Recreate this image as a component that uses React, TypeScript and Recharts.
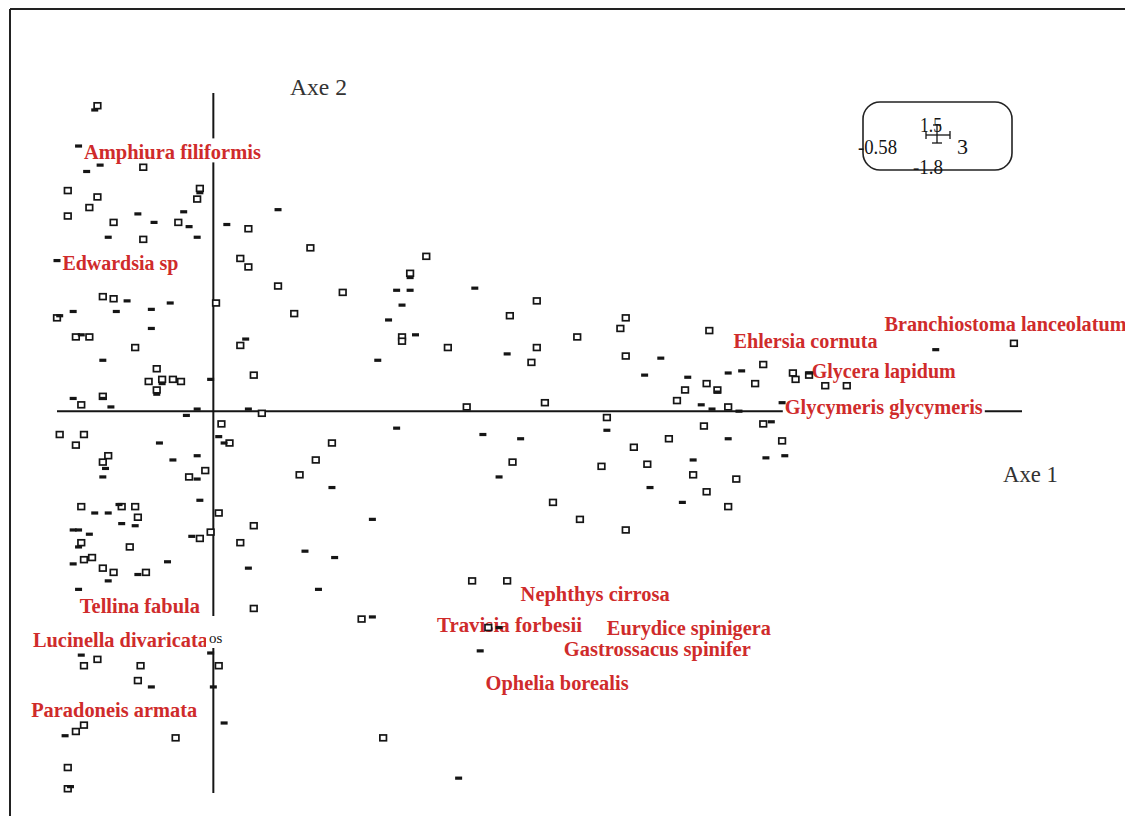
import { ScatterChart, Scatter, XAxis, YAxis } from "recharts";

// axis extents of the ordination plane (from the scale box in the corner)
const X_DOMAIN: [number, number] = [-0.58, 3];
const Y_DOMAIN: [number, number] = [-1.8, 1.5];

const AXIS_H = [{ x: -0.58, y: 0 }, { x: 3, y: 0 }];
const AXIS_V = [{ x: 0, y: 1.5 }, { x: 0, y: -1.8 }];

// stations drawn as open squares
const OPEN_PTS: [number, number][] = [
  [-0.43, 1.44], [-0.26, 1.15], [-0.54, 1.04], [-0.43, 1.01], [-0.05, 1.05], [-0.06, 1.0], [-0.46, 0.96],
  [-0.54, 0.92], [-0.37, 0.89], [-0.13, 0.89], [-0.26, 0.81], [0.13, 0.86], [0.36, 0.77], [0.1, 0.72],
  [0.13, 0.68], [0.24, 0.59], [0.48, 0.56], [-0.41, 0.54], [-0.37, 0.53], [0.01, 0.51], [0.3, 0.46],
  [-0.58, 0.44], [0.1, 0.31], [-0.51, 0.35], [-0.46, 0.35], [-0.29, 0.3], [-0.21, 0.2], [0.15, 0.17],
  [-0.24, 0.14], [-0.19, 0.15], [-0.15, 0.15], [-0.12, 0.14], [-0.21, 0.1], [-0.41, 0.07], [-0.49, 0.03],
  [0.18, -0.01], [0.03, -0.06], [-0.57, -0.11], [-0.48, -0.11], [-0.51, -0.16], [0.06, -0.15], [0.44, -0.15],
  [-0.39, -0.21], [0.38, -0.23], [-0.41, -0.24], [0.32, -0.3], [-0.03, -0.28], [-0.09, -0.31], [-0.49, -0.45],
  [-0.34, -0.45], [-0.29, -0.45], [-0.28, -0.5], [0.02, -0.48], [0.15, -0.54], [-0.01, -0.57], [-0.05, -0.6],
  [-0.49, -0.62], [-0.31, -0.64], [0.1, -0.62], [-0.48, -0.7], [-0.45, -0.69], [-0.41, -0.74], [-0.37, -0.76],
  [-0.25, -0.76], [0.15, -0.93], [0.55, -0.98], [-0.43, -1.17], [-0.48, -1.2], [-0.27, -1.2], [0.02, -1.2],
  [-0.28, -1.27], [-0.48, -1.48], [-0.51, -1.51], [-0.14, -1.54], [0.63, -1.54], [-0.54, -1.68], [-0.54, -1.78],
  [0.79, 0.73], [0.73, 0.65], [0.7, 0.35], [0.7, 0.33], [0.87, 0.3], [1.2, 0.52], [1.1, 0.45], [1.2, 0.3],
  [1.18, 0.23], [1.35, 0.35], [1.53, 0.44], [1.51, 0.39], [1.53, 0.26], [1.84, 0.38], [2.04, 0.22], [1.83, 0.13],
  [1.75, 0.1], [1.87, 0.1], [2.01, 0.13], [1.72, 0.05], [1.91, 0.02], [0.94, 0.02], [1.23, 0.04], [1.46, -0.03],
  [1.56, -0.17], [1.82, -0.07], [2.04, -0.06], [1.69, -0.13], [1.11, -0.24], [1.44, -0.26], [1.61, -0.25],
  [1.78, -0.3], [1.94, -0.32], [1.83, -0.38], [1.91, -0.45], [1.26, -0.43], [1.36, -0.51], [1.53, -0.56],
  [0.96, -0.8], [1.09, -0.8], [1.02, -1.02], [2.15, 0.18], [2.16, 0.15], [2.21, 0.17], [2.27, 0.12],
  [2.35, 0.12], [2.97, 0.32], [2.11, -0.14],
];

// stations drawn as small filled dashes
const FILLED_PTS: [number, number][] = [
  [-0.44, 1.42], [-0.5, 1.25], [-0.42, 1.16], [-0.47, 1.13], [-0.05, 1.03], [-0.11, 0.94], [-0.28, 0.93],
  [-0.22, 0.89], [-0.09, 0.87], [-0.39, 0.82], [-0.06, 0.82], [0.05, 0.88], [0.24, 0.95], [-0.58, 0.71],
  [0.68, 0.57], [-0.32, 0.52], [-0.16, 0.51], [-0.52, 0.47], [-0.36, 0.47], [-0.23, 0.48], [-0.57, 0.45],
  [0.65, 0.43], [-0.23, 0.39], [0.12, 0.34], [-0.49, 0.36], [0.61, 0.24], [-0.41, 0.24], [-0.01, 0.15],
  [-0.19, 0.13], [-0.21, 0.08], [-0.52, 0.06], [-0.41, 0.06], [-0.38, 0.02], [-0.06, 0.01], [-0.1, -0.02],
  [0.13, 0.01], [-0.2, -0.15], [0.02, -0.12], [0.04, -0.15], [0.68, -0.08], [-0.15, -0.23], [-0.06, -0.21],
  [-0.4, -0.27], [-0.41, -0.31], [-0.06, -0.32], [0.44, -0.36], [-0.05, -0.42], [-0.35, -0.44], [-0.44, -0.48],
  [-0.39, -0.48], [0.59, -0.51], [-0.34, -0.53], [-0.29, -0.54], [-0.52, -0.56], [-0.5, -0.56], [-0.46, -0.58],
  [-0.08, -0.59], [-0.5, -0.64], [0.34, -0.66], [0.45, -0.69], [-0.52, -0.72], [-0.17, -0.71], [0.13, -0.74],
  [-0.39, -0.8], [-0.28, -0.77], [0.39, -0.84], [-0.5, -0.84], [0.59, -0.97], [-0.01, -1.14], [-0.49, -1.15],
  [-0.23, -1.3], [0.0, -1.3], [-0.55, -1.53], [0.04, -1.47], [-0.53, -1.77], [0.73, 0.63], [0.73, 0.57],
  [0.7, 0.5], [0.75, 0.36], [0.97, 0.58], [1.09, 0.27], [1.66, 0.25], [1.6, 0.17], [1.91, 0.18], [1.96, 0.19],
  [1.76, 0.16], [1.87, 0.09], [1.81, 0.03], [1.85, 0.01], [1.95, 0.0], [1.0, -0.11], [1.14, -0.13],
  [1.46, -0.09], [2.07, -0.05], [1.91, -0.13], [1.06, -0.31], [1.78, -0.23], [2.05, -0.22], [1.62, -0.36],
  [1.74, -0.43], [1.06, -1.02], [0.99, -1.13], [0.91, -1.73], [2.68, 0.29], [2.21, 0.18], [2.12, -0.21],
  [2.11, 0.04],
];

// species names, placed where they sit in the factor plane
const SPECIES = [
  { name: "Amphiura filiformis", x: -0.48, y: 1.22 },
  { name: "Edwardsia sp", x: -0.56, y: 0.7 },
  { name: "Tellina fabula", x: -0.05, y: -0.92 },
  { name: "Lucinella divaricata", x: -0.02, y: -1.08 },
  { name: "Paradoneis armata", x: -0.06, y: -1.41 },
  { name: "Nephthys cirrosa", x: 1.14, y: -0.86 },
  { name: "Travisia forbesii", x: 0.83, y: -1.01 },
  { name: "Eurydice spinigera", x: 1.46, y: -1.02 },
  { name: "Gastrossacus spinifer", x: 1.3, y: -1.12 },
  { name: "Ophelia borealis", x: 1.01, y: -1.28 },
  { name: "Ehlersia cornuta", x: 1.93, y: 0.33 },
  { name: "Branchiostoma lanceolatum", x: 2.49, y: 0.41 },
  { name: "Glycera lapidum", x: 2.22, y: 0.19 },
  { name: "Glycymeris glycymeris", x: 2.12, y: 0.02 },
];

// text widths / anchoring for the species labels (styling only)
const LABEL_STYLE: Record<string, { w: number; end?: boolean }> = {
  "Amphiura filiformis": { w: 177 },
  "Edwardsia sp": { w: 116 },
  "Tellina fabula": { w: 120, end: true },
  "Lucinella divaricata": { w: 175, end: true },
  "Paradoneis armata": { w: 166, end: true },
  "Nephthys cirrosa": { w: 149 },
  "Travisia forbesii": { w: 145 },
  "Eurydice spinigera": { w: 164 },
  "Gastrossacus spinifer": { w: 187 },
  "Ophelia borealis": { w: 143 },
  "Ehlersia cornuta": { w: 144 },
  "Branchiostoma lanceolatum": { w: 242 },
  "Glycera lapidum": { w: 144 },
  "Glycymeris glycymeris": { w: 198 },
};

const INK = "#151515";
const RED = "#cf2b2b";
const SERIF = "'Liberation Serif', 'Times New Roman', serif";

const openData = OPEN_PTS.map(([x, y]) => ({ x, y }));
const filledData = FILLED_PTS.map(([x, y]) => ({ x, y }));

const OpenSquare = (p: any) => (
  <rect x={p.cx - 3.3} y={p.cy - 2.9} width={6.6} height={5.8} fill="#fff" stroke={INK} strokeWidth={1.7} />
);
const FilledDash = (p: any) => <rect x={p.cx - 3.5} y={p.cy - 1.6} width={7} height={3.2} fill={INK} />;
const NoDot = () => <g />;

const labelBox = (p: any) => {
  const name: string = p.payload?.name ?? p.name;
  const st = LABEL_STYLE[name];
  return { name, st, x0: st.end ? p.cx - st.w : p.cx };
};

// white mask behind each name (drawn first so it never clips a neighbouring name)
const LabelMask = (p: any) => {
  const { st, x0 } = labelBox(p);
  return <rect x={x0 - 2} y={p.cy - 14} width={st.w + 4} height={24} fill="#fff" />;
};

const LabelText = (p: any) => {
  const { name, st, x0 } = labelBox(p);
  return (
    <text x={x0} y={p.cy + 7} textLength={st.w} lengthAdjust="spacingAndGlyphs" fontFamily={SERIF}
      fontWeight="bold" fontSize={20} fill={RED}>
      {name}
    </text>
  );
};

export default function App() {
  const W = 1125;
  const H = 808;
  return (
    <div style={{ position: "relative", width: W, height: H }}>
      <ScatterChart width={W} height={H} margin={{ top: 85, right: 111, bottom: 23, left: 49 }}>
        <XAxis type="number" dataKey="x" domain={X_DOMAIN} hide />
        <YAxis type="number" dataKey="y" domain={Y_DOMAIN} hide />
        <Scatter data={AXIS_H} line={{ stroke: INK, strokeWidth: 2 }} shape={NoDot} isAnimationActive={false} />
        <Scatter data={AXIS_V} line={{ stroke: INK, strokeWidth: 2 }} shape={NoDot} isAnimationActive={false} />
        <Scatter data={SPECIES} shape={LabelMask} isAnimationActive={false} />
        <Scatter data={SPECIES} shape={LabelText} isAnimationActive={false} />
        <Scatter data={openData} shape={OpenSquare} isAnimationActive={false} />
        <Scatter data={filledData} shape={FilledDash} isAnimationActive={false} />
      </ScatterChart>
      <svg width={W} height={H} style={{ position: "absolute", left: 0, top: 0, pointerEvents: "none" }}>
        <line x1={2} y1={1} x2={W} y2={1} stroke="#222" strokeWidth={2} />
        <line x1={2} y1={1} x2={2} y2={H} stroke="#222" strokeWidth={2} />
        <text x={282} y={87} fontFamily={SERIF} fontSize={23} fill="#333" textLength={57} lengthAdjust="spacingAndGlyphs">Axe 2</text>
        <text x={995} y={474} fontFamily={SERIF} fontSize={23} fill="#333" textLength={55} lengthAdjust="spacingAndGlyphs">Axe 1</text>
        <rect x={198} y={608} width={26} height={32} fill="#fff" />
        <text x={201} y={635} fontFamily={SERIF} fontSize={15} fill={INK}>os</text>
        {/* scale box */}
        <rect x={855} y={94} width={149} height={68} rx={17} fill="#fff" stroke="#222" strokeWidth={1.6} />
        <text x={850} y={146} fontFamily={SERIF} fontSize={22} fill={INK} textLength={39} lengthAdjust="spacingAndGlyphs">-0.58</text>
        <text x={912} y={124} fontFamily={SERIF} fontSize={22} fill={INK} textLength={22} lengthAdjust="spacingAndGlyphs">1.5</text>
        <text x={949} y={146} fontFamily={SERIF} fontSize={22} fill={INK}>3</text>
        <text x={905} y={166} fontFamily={SERIF} fontSize={22} fill={INK} textLength={30} lengthAdjust="spacingAndGlyphs">-1.8</text>
        <g stroke={INK} strokeWidth={1.3}>
          <line x1={918} y1={127} x2={942} y2={127} />
          <line x1={918} y1={123} x2={918} y2={131} />
          <line x1={942} y1={123} x2={942} y2={131} />
          <line x1={929} y1={117} x2={929} y2={135} />
          <line x1={924} y1={135} x2={934} y2={135} />
          <line x1={925} y1={117} x2={933} y2={117} />
        </g>
      </svg>
    </div>
  );
}
